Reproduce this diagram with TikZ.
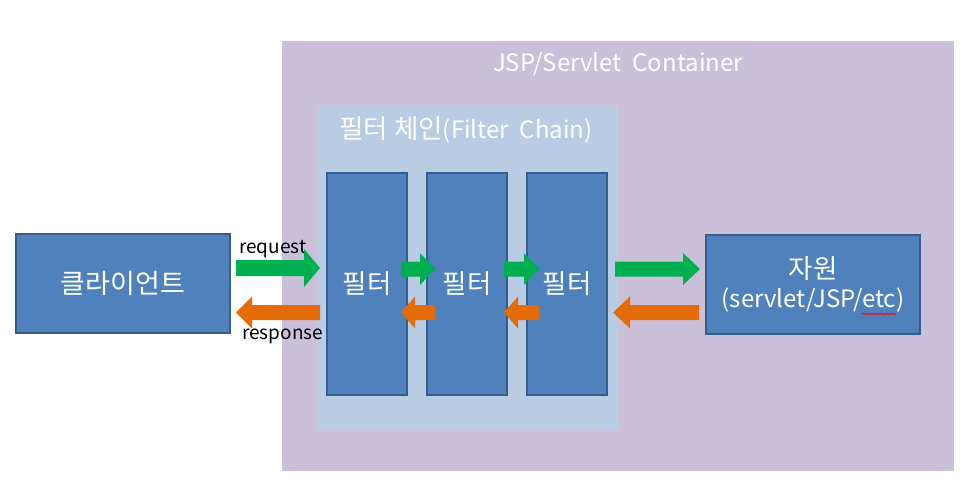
\documentclass[tikz,border=0pt]{standalone}
\usepackage{fontspec}
\setmainfont{Noto Sans CJK KR}
\usetikzlibrary{decorations.pathmorphing}
\definecolor{cont}{HTML}{CBC0DA}
\definecolor{chainc}{HTML}{B8CCE4}
\definecolor{boxf}{HTML}{4F81BD}
\definecolor{boxd}{HTML}{385D8A}
\definecolor{grn}{HTML}{00B050}
\definecolor{org}{HTML}{E36C09}
\newcommand\krbig{\fontsize{26.5}{30}\selectfont}
% right-pointing block arrow: x tail, x tip, y centre, shaft half, head half, head length, colour
\newcommand\blkR[7]{\fill[#7] (#1,#3-#4) -- (#2-#6,#3-#4) -- (#2-#6,#3-#5) -- (#2,#3) -- (#2-#6,#3+#5) -- (#2-#6,#3+#4) -- (#1,#3+#4) -- cycle;}
% left-pointing block arrow: x tip, x tail, ...
\newcommand\blkL[7]{\fill[#7] (#2,#3-#4) -- (#1+#6,#3-#4) -- (#1+#6,#3-#5) -- (#1,#3) -- (#1+#6,#3+#5) -- (#1+#6,#3+#4) -- (#2,#3+#4) -- cycle;}
\begin{document}
\begin{tikzpicture}[x=1pt,y=-1pt,
  region/.style={fill=#1, draw=none, inner sep=0pt, anchor=north west},
  blockbox/.style={fill=boxf, draw=boxd, line width=2pt, inner sep=0pt, text=white, font=\fontsize{24}{30}\selectfont, align=center},
  title/.style={text=white, inner sep=0pt, font=\fontsize{24}{28}\selectfont},
  lbl/.style={text=black, inner sep=0pt, font=\fontsize{19}{22}\selectfont}]
\useasboundingbox (0,0) rectangle (967,482);
\fill[white] (0,0) rectangle (967,482);
% container
\node[region=cont, minimum width=672pt, minimum height=430pt] (container) at (282,41) {};
\node[title] (ctitle) at (618,64) {JSP/Servlet\ \ Container};
% filter chain
\node[region=chainc, minimum width=301pt, minimum height=325pt] (chain) at (317,105) {};
\node[title] (chtitle) at (466,130) {{\krbig 필터 체인}(Filter\ \ Chain)};
% filters
\node[blockbox, minimum width=80pt, minimum height=222pt] (f1) at (367,284) {\krbig 필터};
\node[blockbox, minimum width=80pt, minimum height=222pt] (f2) at (467,284) {\krbig 필터};
\node[blockbox, minimum width=80pt, minimum height=222pt] (f3) at (567,284) {\krbig 필터};
% client and resource
\node[blockbox, minimum width=214pt, minimum height=99pt] (client) at (123,283.5) {\fontsize{27}{30}\selectfont 클라이언트};
\node[blockbox, minimum width=214pt, minimum height=99pt] (res) at (813,284.5) {{\krbig 자원}\\[-1pt](servlet/JSP/etc)};
\draw[red, line width=0.6pt, decorate, decoration={snake, amplitude=1pt, segment length=3pt}] (862,314) -- (896,314);
% labels
\node[lbl, anchor=base west] (req) at (239,253) {request};
\node[lbl, anchor=base west] (resp) at (242,339) {response};
% arrows
\blkR{236}{320}{268}{8}{19}{16}{grn}
\blkL{236}{320}{312.5}{7.5}{16}{16}{org}
\blkR{401}{435}{269}{7.5}{16}{15}{grn}
\blkL{401}{435}{312.5}{7.5}{16}{14}{org}
\blkR{504}{539}{269}{7.5}{16}{15}{grn}
\blkL{504}{539}{312.5}{7.5}{16}{14}{org}
\blkR{615}{700}{269}{7.5}{16}{17}{grn}
\blkL{613}{699}{312.5}{7.5}{16}{17}{org}
\end{tikzpicture}
\end{document}
